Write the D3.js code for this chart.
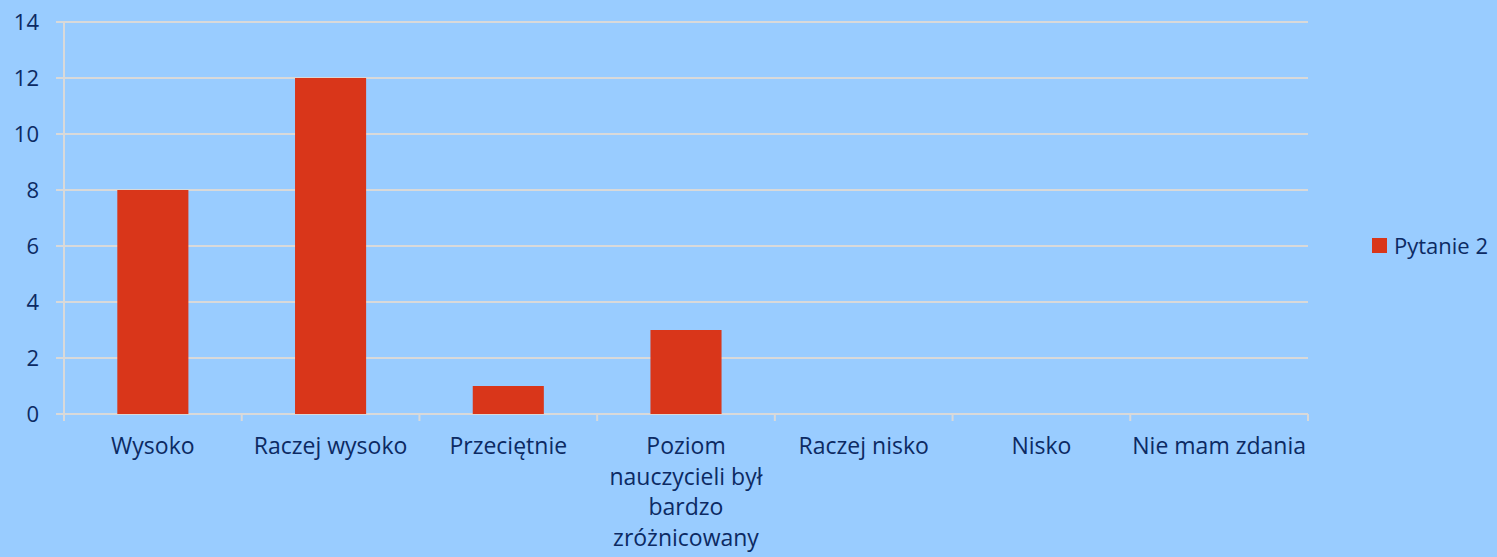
<!DOCTYPE html>
<html>
<head>
<meta charset="utf-8">
<script src="https://cdn.jsdelivr.net/npm/d3@7"></script>
<style>
  body { margin: 0; background: #99ccff; }
  svg { display: block; }
</style>
</head>
<body>
<div id="chart"></div>
<script>
const categories = ["Wysoko", "Raczej wysoko", "Przeciętnie", "Poziom nauczycieli był bardzo zróżnicowany", "Raczej nisko", "Nisko", "Nie mam zdania"];
const values = [8, 12, 1, 3, 0, 0, 0];
const seriesName = "Pytanie 2";
const yTicks = [0, 2, 4, 6, 8, 10, 12, 14];

const width = 1497, height = 557;
const margin = {top: 22, right: 189, bottom: 143, left: 64};
const textColor = "#0c2a63";
const font = "'Open Sans', 'Noto Sans', sans-serif";

const svg = d3.select("#chart").append("svg")
  .attr("width", width)
  .attr("height", height)
  .style("background", "#99ccff");

const x = d3.scaleBand()
  .domain(categories)
  .range([margin.left, width - margin.right])
  .paddingInner(0.6)
  .paddingOuter(0.3);

const y = d3.scaleLinear()
  .domain([0, 14])
  .range([height - margin.bottom, margin.top]);

// grid lines
svg.append("g")
  .selectAll("line")
  .data(yTicks)
  .enter().append("line")
    .attr("x1", margin.left - 8)
    .attr("x2", width - margin.right)
    .attr("y1", d => y(d))
    .attr("y2", d => y(d))
    .attr("stroke", "#d9d9d9")
    .attr("stroke-width", 2);

// y axis line
svg.append("line")
  .attr("x1", margin.left).attr("x2", margin.left)
  .attr("y1", y(14)).attr("y2", y(0) + 6)
  .attr("stroke", "#d9d9d9")
  .attr("stroke-width", 2);

// y labels
svg.append("g")
  .selectAll("text")
  .data(yTicks)
  .enter().append("text")
    .attr("x", 39)
    .attr("y", d => y(d))
    .attr("dy", "0.36em")
    .attr("text-anchor", "end")
    .attr("font-family", font)
    .attr("font-size", 22)
    .attr("fill", textColor)
    .text(d => d);

// x category ticks
const step = x.step();
const tickXs = d3.range(categories.length + 1).map(i => margin.left + i * step);
svg.append("g")
  .selectAll("line")
  .data(tickXs)
  .enter().append("line")
    .attr("x1", d => d).attr("x2", d => d)
    .attr("y1", y(0)).attr("y2", y(0) + 7)
    .attr("stroke", "#d9d9d9")
    .attr("stroke-width", 2);

// bars
svg.append("g")
  .selectAll("rect")
  .data(values)
  .enter().append("rect")
    .attr("x", (d, i) => x(categories[i]))
    .attr("width", x.bandwidth())
    .attr("y", d => y(d))
    .attr("height", d => y(0) - y(d))
    .attr("fill", "#d9361a");

// x labels with wrapping
const labels = svg.append("g")
  .selectAll("text")
  .data(categories)
  .enter().append("text")
    .attr("x", d => x(d) + x.bandwidth() / 2)
    .attr("y", 454)
    .attr("text-anchor", "middle")
    .attr("font-family", font)
    .attr("font-size", 23)
    .attr("fill", textColor);

labels.each(function(d) {
  const t = d3.select(this);
  const words = d.split(" ");
  const maxW = 190;
  let line = [];
  let tspan = t.append("tspan").attr("x", t.attr("x")).attr("dy", 0);
  words.forEach(w => {
    line.push(w);
    tspan.text(line.join(" "));
    if (tspan.node().getComputedTextLength() > maxW && line.length > 1) {
      line.pop();
      tspan.text(line.join(" "));
      line = [w];
      tspan = t.append("tspan").attr("x", t.attr("x")).attr("dy", 30.5).text(w);
    }
  });
});

// legend
const legend = svg.append("g").attr("transform", "translate(1372,238)");
legend.append("rect")
  .attr("width", 15).attr("height", 15)
  .attr("fill", "#d9361a");
legend.append("text")
  .attr("x", 22).attr("y", 8)
  .attr("dy", "0.36em")
  .attr("font-family", font)
  .attr("font-size", 22)
  .attr("fill", textColor)
  .text(seriesName);
</script>
</body>
</html>
